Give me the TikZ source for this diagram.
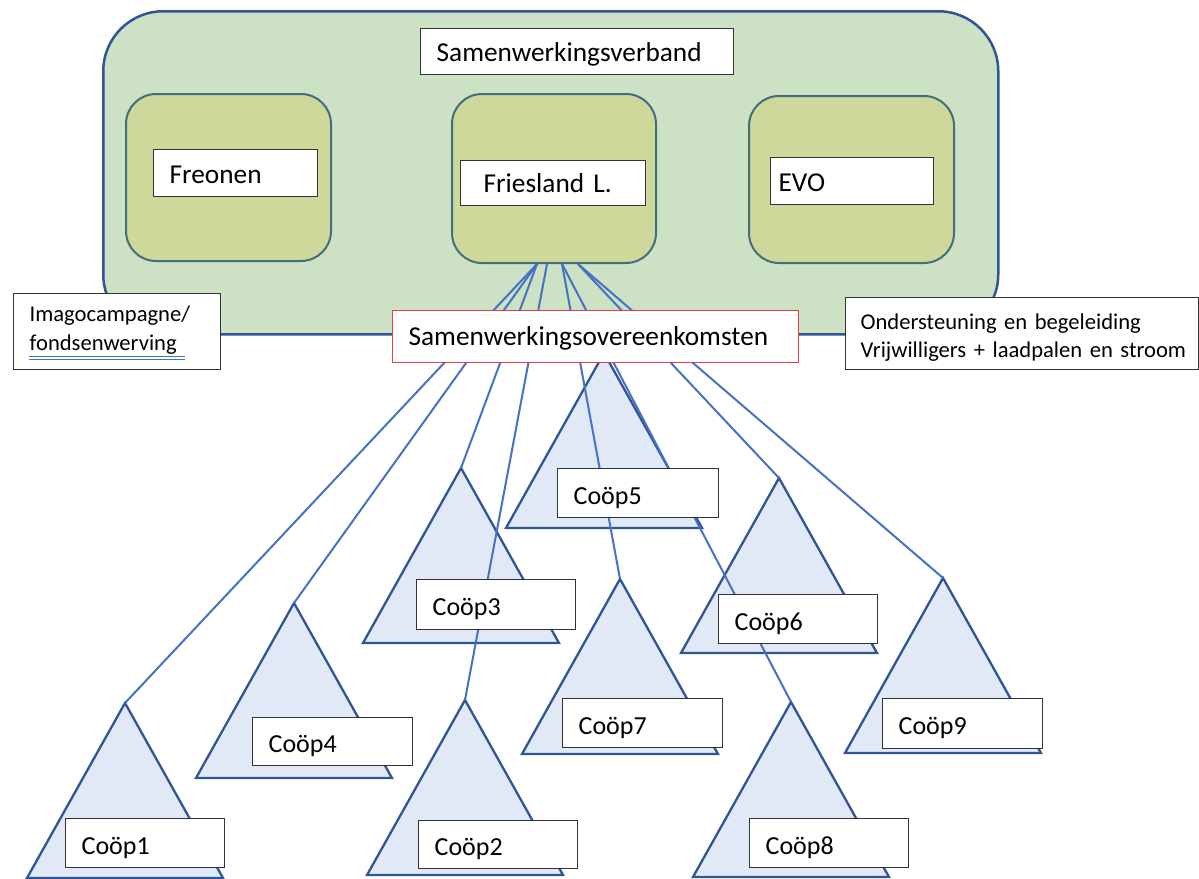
\documentclass[tikz,border=0pt]{standalone}
\usepackage{fontspec}
\usetikzlibrary{calc}
\setmainfont{Carlito}
\definecolor{outerfill}{RGB}{205,225,196}
\definecolor{outerline}{RGB}{47,85,151}
\definecolor{innerfill}{RGB}{206,216,155}
\definecolor{innerline}{RGB}{66,110,125}
\definecolor{redline}{RGB}{232,62,72}
\definecolor{trifillc}{RGB}{226,233,246}
\definecolor{connc}{RGB}{68,114,196}
\begin{document}
\begin{tikzpicture}[x=1pt,y=-1pt,
  outerbox/.style={draw=outerline,fill=outerfill,line width=2.5pt,rounded corners=60pt},
  innerbox/.style={draw=innerline,fill=innerfill,line width=2pt,rounded corners=30pt},
  tbox/.style={draw=black!80,fill=white,line width=1.3pt,anchor=north west,align=left,
    inner xsep=16pt,inner ysep=0pt,font=\fontsize{27.3}{32}\selectfont,
    text height=26pt,text depth=6pt},
  cbox/.style={tbox,font=\fontsize{26}{31}\selectfont,text height=28pt,text depth=6pt},
  sbox/.style={tbox,font=\fontsize{22.6}{28.8}\selectfont},
  trishape/.style={draw=outerline,fill=trifillc,line width=2.3pt,line join=miter},
  conn/.style={draw=connc,line width=2pt}]
\useasboundingbox (0,0) rectangle (1199,878);
\newcommand\cooptri[3]{\coordinate (#1) at (#2,#3);
  \filldraw[trishape] (#1) -- ++(-98,175) -- ++(196,0) -- cycle;}
% outer frame
\node[outerbox,minimum width=895pt,minimum height=323pt,anchor=north west] (verband) at (102,10) {};
% inner boxes
\node[innerbox,minimum width=205pt,minimum height=167pt,anchor=north west] (freo) at (125,93) {};
\node[innerbox,minimum width=204pt,minimum height=169pt,anchor=north west] (fl) at (451,93) {};
\node[innerbox,minimum width=205pt,minimum height=167pt,anchor=north west] (evo) at (748,95) {};
% labels
\node[tbox,text width=281pt,minimum height=46pt] (sv) at (420,28) {\mbox{Samenwerkingsverband}};
\node[tbox,text width=132pt,minimum height=47pt] (freot) at (153,149) {\mbox{Freonen}};
\node[tbox,text width=139pt,minimum height=45pt,inner xsep=23pt,text height=25pt] (flt) at (460,160) {\mbox{Friesland L.}};
\node[tbox,text width=147pt,minimum height=47pt,inner xsep=8pt] (evot) at (770,157) {\mbox{EVO}};
% side boxes
\node[sbox,text width=175pt,minimum height=76pt,text height=28pt,text depth=48pt] (imago) at (13,293)
  {\mbox{Imagocampagne/}\\\mbox{fondsenwerving}};
\node[sbox,text width=323pt,minimum height=72pt,inner xsep=15pt,text height=31.5pt,text depth=40.5pt] (onder) at (845,297)
  {\mbox{Ondersteuning en begeleiding}\\\mbox{Vrijwilligers + laadpalen en stroom}};
\draw[connc,line width=0.8pt] (29,356.5) -- (185,356.5) (29,359.5) -- (185,359.5);
% triangles
\cooptri{a1}{125}{703}
\cooptri{a4}{294}{603}
\cooptri{a3}{461}{468}
\cooptri{a2}{465}{700}
\cooptri{a5}{604}{353}
\cooptri{a6}{779}{478}
\cooptri{a7}{620}{579}
\cooptri{a8}{791}{702}
\cooptri{a9}{943}{578}
% connector start points on Friesland L.
\coordinate (s1) at ($(fl.south west)+(86,0)$);
\coordinate (s2) at ($(fl.south west)+(96,0)$);
\coordinate (s3) at ($(fl.south west)+(111,0)$);
\coordinate (s4) at ($(fl.south west)+(127,0)$);
\draw[conn] (s1) -- (a1);
\draw[conn] (s1) -- (a4);
\draw[conn] (s1) -- (a3);
\draw[conn] (s2) -- (a2);
\draw[conn] (s3) -- (a7);
\draw[conn] (s3) -- (a8);
\draw[conn] (s4) -- (a6);
\draw[conn] (s4) -- (a9);
% agreements box
\node[tbox,draw=redline,line width=1.2pt,text width=374pt,minimum height=52pt,text height=24pt] (ovk) at (392,310) {\mbox{Samenwerkingsovereenkomsten}};
% coop labels
\node[cbox,text width=127pt,minimum height=49pt] (c1) at (65,818) {Coöp1};
\node[cbox,text width=127pt,minimum height=48pt] (c2) at (418,820) {Coöp2};
\node[cbox,text width=127pt,minimum height=50pt] (c3) at (416,579) {Coöp3};
\node[cbox,text width=128pt,minimum height=48pt] (c4) at (252,717) {Coöp4};
\node[cbox,text width=129pt,minimum height=49pt] (c5) at (557,468) {Coöp5};
\node[cbox,text width=127pt,minimum height=49pt] (c6) at (718,594) {Coöp6};
\node[cbox,text width=128pt,minimum height=49pt] (c7) at (562,698) {Coöp7};
\node[cbox,text width=127pt,minimum height=49pt] (c8) at (749,818) {Coöp8};
\node[cbox,text width=128pt,minimum height=50pt] (c9) at (882,698) {Coöp9};
\end{tikzpicture}
\end{document}
